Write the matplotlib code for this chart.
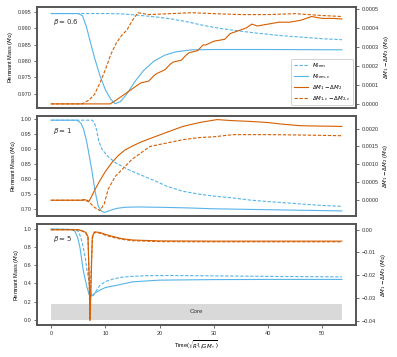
import matplotlib
matplotlib.use('Agg')
import matplotlib.pyplot as plt

plt.rcParams['font.family'] = ['Liberation Sans', 'DejaVu Sans']
plt.rcParams['font.size'] = 4

blue = '#56B4E9'
orange = '#D55E00'
spine_c = '#555555'

# ---- beta = 0.6 ----
t06_rem = [0, 10, 13, 16, 19, 22, 25, 28, 31, 34, 38, 42, 46, 50, 53.6]
m06_rem = [0.9945, 0.9945, 0.9944, 0.9940, 0.9935, 0.9929, 0.9920, 0.9909,
           0.9900, 0.9893, 0.9885, 0.9878, 0.9873, 0.9868, 0.9865]
t06_remc = [0, 5.0, 5.8, 6.5, 7.2, 8.0, 9.0, 10.0, 11.0, 11.8, 12.8, 14.0,
            15.5, 17.0, 19.0, 21.0, 23.0, 26.0, 30.0, 40.0, 53.6]
m06_remc = [0.9945, 0.9945, 0.9938, 0.9905, 0.986, 0.981, 0.9755, 0.9712,
            0.9683, 0.9669, 0.9676, 0.9700, 0.9738, 0.9770, 0.9800, 0.9818,
            0.9828, 0.9834, 0.9835, 0.9835, 0.9834]
t06_dm = [0, 10.9, 12, 13, 14, 15, 16, 16.5, 18, 19, 19.5, 21, 22, 22.5, 24,
          25, 25.5, 27, 28, 28.5, 30, 32, 33, 34, 36, 37, 38, 40, 42, 44, 46,
          48, 50, 52, 53.6]
d06_dm = [0, 0, 0.00002, 0.00004, 0.00006, 0.00008, 0.00010, 0.00011,
          0.00012, 0.00015, 0.00016, 0.00018, 0.00021, 0.00022, 0.00023,
          0.00026, 0.00027, 0.00028, 0.00031, 0.00031, 0.00033, 0.00034,
          0.00037, 0.00038, 0.00040, 0.00042, 0.00041, 0.00042, 0.00043,
          0.00043, 0.00044, 0.00046, 0.00045, 0.00045, 0.000447]
t06_dmc = [0, 5.7, 7, 8, 9, 10, 11, 12, 13, 14, 15, 16, 18, 22, 26, 30, 35,
           40, 45, 50, 53.6]
d06_dmc = [0, 0, 0.00002, 0.00005, 0.00011, 0.00018, 0.00026, 0.00032,
           0.00036, 0.00039, 0.00044, 0.00048, 0.00047, 0.000475, 0.00048,
           0.000475, 0.00047, 0.00047, 0.000475, 0.000465, 0.00046]

# ---- beta = 1 ----
t1_rem = [0, 7.6, 8.0, 8.4, 8.8, 9.4, 10.5, 11.8, 14.2, 16.8, 19.2, 21.4,
          24.3, 27.4, 30, 33.5, 36.6, 39.8, 43, 46, 50, 53.6]
m1_rem = [0.995, 0.995, 0.985, 0.962, 0.925, 0.898, 0.875, 0.855, 0.832,
          0.812, 0.794, 0.776, 0.760, 0.750, 0.744, 0.738, 0.731, 0.726,
          0.722, 0.718, 0.713, 0.710]
t1_remc = [0, 4.8, 5.5, 6.0, 6.6, 6.9, 7.5, 8.1, 8.7, 9.3, 9.8, 10.5, 12,
           13.6, 16, 20, 25, 30, 40, 53.6]
m1_remc = [0.995, 0.995, 0.985, 0.965, 0.92, 0.89, 0.83, 0.76, 0.71, 0.694,
           0.690, 0.694, 0.703, 0.707, 0.708, 0.707, 0.705, 0.702, 0.699,
           0.695]
t1_dm = [0, 5.5, 6.0, 6.6, 7.0, 8.1, 9.0, 10.0, 11.2, 12.4, 13.6, 15.1,
         16.5, 18.2, 20, 21.4, 24.3, 27.4, 30.6, 33.5, 36.6, 39.8, 42.8,
         45.9, 49, 53.6]
d1_dm = [0, 0, 0.00002, 0, -0.00003, 0.0003, 0.00055, 0.0008, 0.00105,
         0.00125, 0.0014, 0.00152, 0.00162, 0.00172, 0.00182, 0.0019,
         0.00206, 0.00217, 0.00225, 0.00222, 0.0022, 0.00217, 0.00212,
         0.00208, 0.00207, 0.00206]
t1_dmc = [0, 6.3, 7.0, 8.0, 9.0, 9.8, 10.5, 11.8, 13.1, 14.9, 17.3, 18.2,
          21.4, 24.3, 27.4, 30, 33.5, 40, 46, 53.6]
d1_dmc = [0, 0, -0.00005, -0.0002, -0.00029, -0.0001, 0.0003, 0.00066,
          0.00086, 0.00114, 0.0014, 0.0015, 0.0016, 0.00169, 0.00175,
          0.00177, 0.00183, 0.00183, 0.00182, 0.0018]

# ---- beta = 5 ----
t5_rem = [0, 4.4, 5.0, 5.5, 5.9, 6.3, 6.6, 7.0, 7.3, 7.5, 7.8, 8.2, 9.0,
          10.0, 11.5, 13, 15, 18, 22, 30, 40, 53.6]
m5_rem = [0.995, 0.99, 0.97, 0.9, 0.8, 0.68, 0.55, 0.42, 0.32, 0.26, 0.27,
          0.31, 0.38, 0.42, 0.45, 0.468, 0.478, 0.485, 0.487, 0.483, 0.477,
          0.472]
t5_remc = [0, 3.8, 4.4, 4.9, 5.3, 5.6, 5.9, 6.3, 6.6, 7.0, 7.2, 7.6, 8.2,
           9.0, 10.0, 12.1, 15.1, 20, 30, 40, 53.6]
m5_remc = [0.995, 0.99, 0.97, 0.9, 0.8, 0.68, 0.55, 0.44, 0.36, 0.28, 0.254,
           0.27, 0.3, 0.327, 0.355, 0.38, 0.418, 0.436, 0.442, 0.444, 0.444]
t5_dm = [0, 5.0, 5.8, 6.4, 6.8, 7.0, 7.2, 7.4, 7.6, 8.0, 9.0, 10, 11.5, 13,
         15, 20, 30, 53.6]
d5_dm = [0, 0, -0.0005, -0.0012, -0.003, -0.02, -0.0398, -0.02, -0.003,
         -0.0009, -0.0012, -0.002, -0.003, -0.0039, -0.0045, -0.0049,
         -0.005, -0.005]
t5_dmc = [0, 5.0, 5.8, 6.4, 6.8, 7.0, 7.15, 7.35, 7.6, 8.0, 9.0, 10, 11.5,
          13, 15, 20, 30, 53.6]
d5_dmc = [0, 0, -0.0006, -0.0014, -0.0035, -0.02, -0.0398, -0.02, -0.0035,
          -0.0012, -0.0015, -0.0024, -0.0034, -0.0042, -0.0048, -0.0052,
          -0.0053, -0.0053]
core_t = [0, 53.6]
core_top = 0.18

panels = [
    (r'$\beta = 0.6$', t06_rem, m06_rem, t06_remc, m06_remc,
     t06_dm, d06_dm, t06_dmc, d06_dmc),
    (r'$\beta = 1$', t1_rem, m1_rem, t1_remc, m1_remc,
     t1_dm, d1_dm, t1_dmc, d1_dmc),
    (r'$\beta = 5$', t5_rem, m5_rem, t5_remc, m5_remc,
     t5_dm, d5_dm, t5_dmc, d5_dmc),
]
ylims = [(0.9657, 0.9965), (0.677, 1.01), (-0.055, 1.047)]
yticks = [[0.970, 0.975, 0.980, 0.985, 0.990, 0.995],
          [0.70, 0.75, 0.80, 0.85, 0.90, 0.95, 1.00],
          [0.0, 0.2, 0.4, 0.6, 0.8, 1.0]]
rlims = [(-0.00002, 0.00051), (-0.00045, 0.00236), (-0.0419, 0.0024)]
rticks = [[0, 0.0001, 0.0002, 0.0003, 0.0004, 0.0005],
          [0, 0.0005, 0.001, 0.0015, 0.002],
          [0, -0.01, -0.02, -0.03, -0.04]]

fig, axes = plt.subplots(3, 1, sharex=True, figsize=(3.97, 3.57), dpi=100)
fig.subplots_adjust(left=0.0932, right=0.8967, top=0.9804, bottom=0.0896,
                    hspace=0.079)

for i, ax in enumerate(axes):
    lab, tr, mr, trc, mrc, td, dd, tdc, ddc = panels[i]
    ax2 = ax.twinx()
    if i == 2:
        ax.fill_between(core_t, 0, core_top, color='#d9d9d9', lw=0)
        ax.text(sum(core_t) / 2, core_top / 2, 'Core', ha='center',
                va='center', fontsize=4.5, color='#333333')
    l1, = ax.plot(tr, mr, '--', color=blue, lw=0.8, dashes=(3, 1.5),
                  label=r'$M_{\rm rem}$')
    l2, = ax.plot(trc, mrc, '-', color=blue, lw=0.8, label=r'$M_{\rm rem,c}$')
    l3, = ax2.plot(td, dd, '-', color=orange, lw=0.8,
                   label=r'$\Delta M_1 - \Delta M_2$')
    l4, = ax2.plot(tdc, ddc, '--', color=orange, lw=0.8, dashes=(3, 1.5),
                   label=r'$\Delta M_{1,c} - \Delta M_{2,c}$')
    ax.set_ylim(ylims[i])
    ax.set_yticks(yticks[i])
    ax2.set_ylim(rlims[i])
    ax2.set_yticks(rticks[i])
    ax.set_ylabel(r'Remnant Mass ($M_{\odot}$)', labelpad=2)
    ax2.set_ylabel(r'$\Delta M_1 - \Delta M_2$ ($M_{\odot}$)', labelpad=2)
    ax.text(0.05, 0.85, lab, transform=ax.transAxes, fontsize=5,
            va='center', color='#333333')
    for a in (ax, ax2):
        for s in a.spines.values():
            s.set_color(spine_c)
            s.set_linewidth(1.2)
        a.tick_params(length=2.5, width=0.6, color=spine_c, pad=1.5,
                      labelcolor='#333333')
    if i < 2:
        ax.tick_params(axis='x', length=0)
    if i == 0:
        leg = ax2.legend(handles=[l1, l2, l3, l4], loc='lower right',
                         fontsize=4, handlelength=2.5, framealpha=1,
                         borderpad=0.4, labelspacing=0.45)
        leg.get_frame().set_edgecolor('#cccccc')
        leg.get_frame().set_linewidth(0.6)

axes[2].set_xlim(-2.6, 56.2)
axes[2].set_xticks([0, 10, 20, 30, 40, 50])
axes[2].set_xlabel(r'Time($\sqrt{R_*^3/GM_*}$)', labelpad=2)

plt.savefig('out.png', dpi=100)
